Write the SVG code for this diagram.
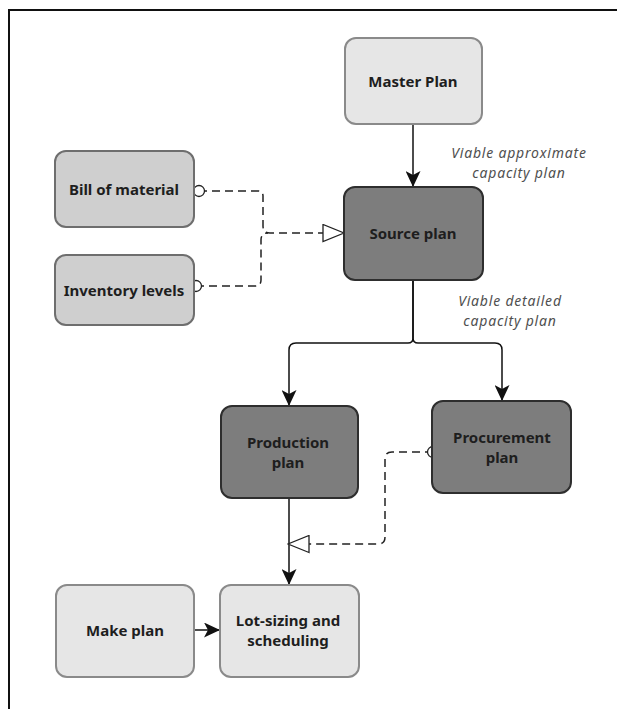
<svg xmlns="http://www.w3.org/2000/svg" width="617" height="709" viewBox="0 0 617 709">
  <style>
    .node rect { stroke-width: 2; }
    .light rect { fill: #e6e6e6; stroke: #8a8a8a; }
    .mid rect { fill: #cfcfcf; stroke: #6e6e6e; }
    .dark rect { fill: #7d7d7d; stroke: #2e2e2e; }
    .node text { font-family: "Noto Sans", "Liberation Sans", sans-serif; font-weight: 700; font-size: 15px; fill: #1e1e1e; text-anchor: middle; }
    .flow { fill: none; stroke: #111; stroke-width: 1.5; }
    .dash { fill: none; stroke: #222; stroke-width: 1.5; stroke-dasharray: 8 5; }
    .note { font-family: "Noto Sans", "Liberation Sans", sans-serif; font-style: italic; font-size: 14px; letter-spacing: 0.8px; fill: #505050; text-anchor: middle; }
  </style>
  <defs>
    <marker id="arrow" viewBox="0 0 16 15" refX="16" refY="7.5" markerWidth="16" markerHeight="15" markerUnits="userSpaceOnUse" orient="auto">
      <path d="M0,0 L16,7.5 L0,15 L4,7.5 z" fill="#111"/>
    </marker>
    <marker id="open" viewBox="0 0 23 19" refX="22" refY="9.5" markerWidth="23" markerHeight="19" markerUnits="userSpaceOnUse" orient="auto">
      <path d="M1,1 L22,9.5 L1,18 z" fill="#fff" stroke="#222" stroke-width="1.3" stroke-dasharray="none"/>
    </marker>
    <marker id="dot" viewBox="0 0 14 14" refX="7" refY="7" markerWidth="14" markerHeight="14" markerUnits="userSpaceOnUse" orient="auto">
      <circle cx="7" cy="7" r="5.5" fill="#fff" stroke="#222" stroke-width="1.3" stroke-dasharray="none"/>
    </marker>
  </defs>

  <rect width="617" height="709" fill="#fff"/>
  <!-- frame -->
  <path d="M9,709 V10 H617" fill="none" stroke="#111" stroke-width="2"/>

  <g id="connectors">
    <path class="flow" d="M413,124 V187" marker-end="url(#arrow)"/>
    <path class="flow" d="M413,280 V338 Q413,343 408,343 H296 Q289,343 289,350 V406" marker-end="url(#arrow)"/>
    <path class="flow" d="M413,280 V338 Q413,343 418,343 H495 Q502,343 502,350 V401" marker-end="url(#arrow)"/>
    <path class="flow" d="M289,498 V585" marker-end="url(#arrow)"/>
    <path class="flow" d="M194,630 H220" marker-end="url(#arrow)"/>
    <path class="dash" d="M199,191 H258 Q263,191 263,196 V226 Q263,233 270,233 H344" marker-start="url(#dot)" marker-end="url(#open)"/>
    <path class="dash" d="M196,286 H255 Q261,286 261,280 V240 Q261,233 268,233" marker-start="url(#dot)"/>
    <path class="dash" d="M433,452 H392 Q385,452 385,459 V537 Q385,544 378,544 H288" marker-start="url(#dot)" marker-end="url(#open)"/>
    <text class="note" x="519" y="158">Viable approximate</text>
    <text class="note" x="519" y="177.5">capacity plan</text>
    <text class="note" x="510" y="306">Viable detailed</text>
    <text class="note" x="510" y="325.5">capacity plan</text>
  </g>

  <g id="master-plan" class="node light">
    <rect x="345" y="38" width="137" height="86" rx="11"/>
    <text x="413" y="87">Master Plan</text>
  </g>
  <g id="bill-of-material" class="node mid">
    <rect x="55" y="151" width="139" height="76" rx="11"/>
    <text x="124" y="195">Bill of material</text>
  </g>
  <g id="inventory-levels" class="node mid">
    <rect x="55" y="255" width="139" height="70" rx="11"/>
    <text x="124" y="296">Inventory levels</text>
  </g>
  <g id="source-plan" class="node dark">
    <rect x="344" y="187" width="139" height="93" rx="11"/>
    <text x="413" y="239">Source plan</text>
  </g>
  <g id="production-plan" class="node dark">
    <rect x="221" y="406" width="137" height="92" rx="11"/>
    <text x="288" y="448">Production</text>
    <text x="288" y="468">plan</text>
  </g>
  <g id="procurement-plan" class="node dark">
    <rect x="432" y="401" width="139" height="92" rx="11"/>
    <text x="502" y="443">Procurement</text>
    <text x="502" y="463">plan</text>
  </g>
  <g id="make-plan" class="node light">
    <rect x="56" y="585" width="138" height="92" rx="11"/>
    <text x="125" y="636">Make plan</text>
  </g>
  <g id="lot-sizing" class="node light">
    <rect x="220" y="585" width="139" height="92" rx="11"/>
    <text x="288" y="626">Lot-sizing and</text>
    <text x="288" y="646">scheduling</text>
  </g>
</svg>
